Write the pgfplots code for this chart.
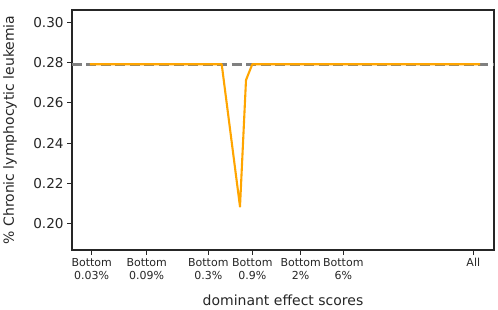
\documentclass[border=0pt]{standalone}
\usepackage{pgfplots}
\pgfplotsset{compat=1.18}
\usepackage{fontspec}
\setmainfont{DejaVu Sans}
\definecolor{mplorange}{HTML}{FFA500}
\definecolor{mplgray}{HTML}{808080}
\definecolor{mpltext}{HTML}{262626}
\begin{document}
\begin{tikzpicture}
\begin{axis}[
  at={(0pt,0pt)}, anchor=south west,
  scale only axis,
  width=422pt, height=240pt,
  xmin=72, xmax=494,
  ymin=0.18669, ymax=0.30633,
  ytick={0.20,0.22,0.24,0.26,0.28,0.30},
  /pgf/number format/assume math mode=true,
  yticklabel style={/pgf/number format/fixed,/pgf/number format/fixed zerofill,/pgf/number format/precision=2,font=\fontsize{13.6}{16}\selectfont, text=mpltext},
  xtick={91.7,146.7,208.3,252.3,300.7,343.3,473.3},
  xticklabels={{Bottom\\0.03\%},{Bottom\\0.09\%},{Bottom\\0.3\%},{Bottom\\0.9\%},{Bottom\\2\%},{Bottom\\6\%},{All}},
  xticklabel style={align=center, font=\fontsize{11}{12.8}\selectfont, anchor=north, text=mpltext},
  xlabel={dominant effect scores},
  ylabel={\% Chronic lymphocytic leukemia},
  xlabel style={font=\fontsize{14}{16}\selectfont, at={(axis description cs:0.5,0)}, anchor=base, yshift=-55pt, text=mpltext},
  ylabel style={font=\fontsize{14}{16}\selectfont, at={(axis description cs:-0.147,0.5)}, anchor=center, text=mpltext},
  tick align=outside,
  tick pos=left,
  major tick length=4.9pt,
  axis line style={mpltext, line width=1.1pt},
  every tick/.style={mpltext, line width=1.1pt},
  clip=false,
]
\addplot[mplgray, line width=2.6pt, dash pattern=on 10pt off 4.5pt] coordinates {(72,0.2792) (494,0.2792)};
\addplot[mplorange, line width=2.1pt, line join=round] coordinates {
(90,0.2793) (146.7,0.2793) (208.3,0.2793) (221.7,0.2793) (240,0.2083) (246,0.2714) (252.3,0.2793) (300.7,0.2793) (343.3,0.2793) (473.3,0.2793) (480,0.2793)
};
\end{axis}
\pgfresetboundingbox
\useasboundingbox (-72pt,-59pt) rectangle (426pt,250pt);
\end{tikzpicture}
\end{document}
